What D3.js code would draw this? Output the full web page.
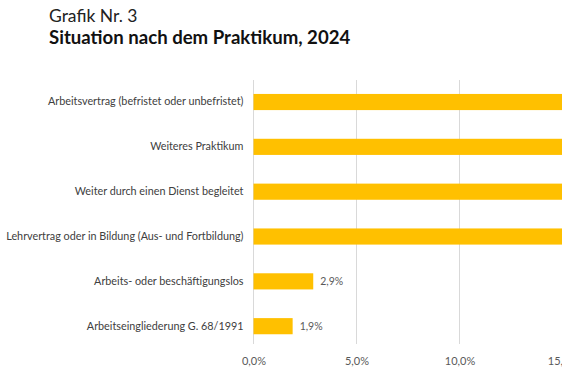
<!DOCTYPE html>
<html>
<head>
<meta charset="utf-8">
<script src="https://cdn.jsdelivr.net/npm/d3@7"></script>
<style>
  body { margin: 0; background: #fff; }
  svg { display: block; font-family: "Lato", "Open Sans", sans-serif; }
</style>
</head>
<body>
<div id="chart"></div>
<script>
// Data
var categories = [
  "Arbeitsvertrag (befristet oder unbefristet)",
  "Weiteres Praktikum",
  "Weiter durch einen Dienst begleitet",
  "Lehrvertrag oder in Bildung (Aus- und Fortbildung)",
  "Arbeits- oder beschäftigungslos",
  "Arbeitseingliederung G. 68/1991"
];
var values = [40.4, 19.2, 18.3, 17.3, 2.9, 1.9];
var tickValues = [0, 5, 10, 15];

var svgWidth = 562;
var svgHeight = 374;

var svg = d3.select("#chart")
  .append("svg")
  .attr("width", svgWidth)
  .attr("height", svgHeight);

// Titles
svg.append("text")
  .attr("x", 49)
  .attr("y", 22)
  .attr("font-size", "17.5px")
  .attr("fill", "#222")
  .text("Grafik Nr. 3");

svg.append("text")
  .attr("x", 49)
  .attr("y", 44)
  .attr("font-size", "18.6px")
  .attr("font-weight", "bold")
  .attr("fill", "#111")
  .text("Situation nach dem Praktikum, 2024");

var de = d3.formatLocale({ decimal: ",", thousands: ".", grouping: [3], currency: ["", " €"] });
var fmt = function(v) { return de.format(".1f")(v) + "%"; };

// Scales
var x = d3.scaleLinear()
  .domain([0, 45])
  .range([253.5, 253.5 + 45 * 20.6]);

var y = d3.scaleBand()
  .domain(categories)
  .range([79.6, 348.6])
  .padding(0);

var barH = y.bandwidth() * 0.36;

// Gridlines
svg.append("g")
  .selectAll("line")
  .data(tickValues)
  .enter()
  .append("line")
  .attr("x1", d => x(d))
  .attr("x2", d => x(d))
  .attr("y1", 80)
  .attr("y2", 344)
  .attr("stroke", "#d9d9d9")
  .attr("stroke-width", 1);

// Bottom axis labels
var xAxis = d3.axisBottom(x)
  .tickValues(tickValues)
  .tickFormat(fmt)
  .tickSize(0)
  .tickPadding(0);

svg.append("g")
  .attr("transform", "translate(0, 357)")
  .call(xAxis)
  .call(g => g.select(".domain").remove())
  .selectAll("text")
  .attr("font-family", "Lato, 'Open Sans', sans-serif")
  .attr("font-size", "11px")
  .attr("fill", "#595959");

// Category labels
var yAxis = d3.axisLeft(y).tickSize(0).tickPadding(0);
svg.append("g")
  .attr("transform", "translate(243.5, 0)")
  .call(yAxis)
  .call(g => g.select(".domain").remove())
  .selectAll("text")
  .attr("font-family", "Lato, 'Open Sans', sans-serif")
  .attr("font-size", "10.8px")
  .attr("fill", "#404040");

// Bars
svg.append("g")
  .selectAll("rect")
  .data(values)
  .enter()
  .append("rect")
  .attr("x", x(0))
  .attr("y", (d, i) => y(categories[i]) + (y.bandwidth() - barH) / 2)
  .attr("width", d => x(d) - x(0))
  .attr("height", barH)
  .attr("fill", "#ffc000");

// Value labels
svg.append("g")
  .selectAll("text")
  .data(values)
  .enter()
  .append("text")
  .attr("x", d => x(d) + 7)
  .attr("y", (d, i) => y(categories[i]) + y.bandwidth() / 2)
  .attr("dy", "0.35em")
  .attr("font-size", "10.5px")
  .attr("fill", "#595959")
  .text(d => fmt(d));
</script>
</body>
</html>
